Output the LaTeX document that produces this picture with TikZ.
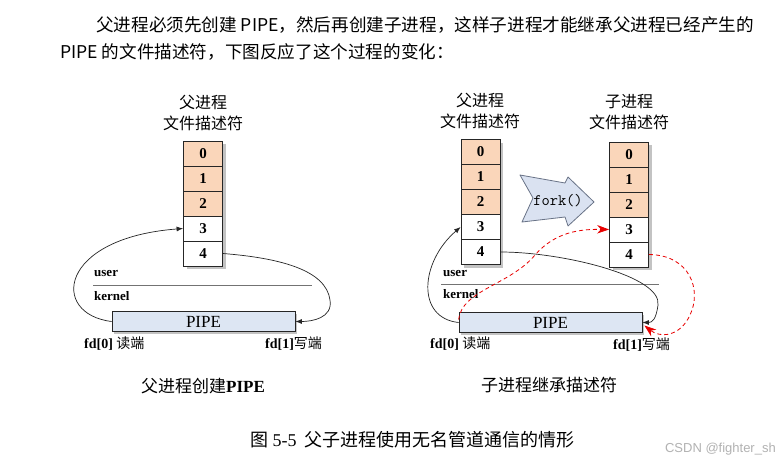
\documentclass[tikz,border=0pt]{standalone}
\usepackage{fontspec}
\setmainfont{Liberation Serif}
\newfontfamily\cjk{Noto Sans CJK SC}
\newfontfamily\wmfont{Liberation Sans}
\usetikzlibrary{arrows.meta,positioning,shadows}

\definecolor{fdorange}{RGB}{250,214,186}
\definecolor{pipeblue}{RGB}{221,230,243}
\definecolor{shadowgray}{RGB}{195,195,195}
\definecolor{forkblue}{RGB}{218,226,241}
\definecolor{forkedge}{RGB}{105,115,135}
\definecolor{pipered}{RGB}{232,0,0}

\tikzset{
  fdcell/.style={draw=black!85, line width=0.8pt, minimum width=39pt, minimum height=25pt, inner sep=0pt,
    drop shadow={shadow xshift=3pt, shadow yshift=-3pt, fill=shadowgray, opacity=1},
    font=\bfseries\fontsize{15}{15}\selectfont},
  pipebox/.style={draw=black!85, line width=0.8pt, fill=pipeblue, minimum width=183pt, minimum height=20pt, inner sep=0pt,
    drop shadow={shadow xshift=2pt, shadow yshift=-2pt, fill=shadowgray, opacity=1},
    font=\fontsize{17}{17}\selectfont},
  head/.style={align=center, font=\cjk\fontsize{16}{21}\selectfont},
  space/.style={anchor=west, inner sep=0pt, font=\bfseries\fontsize{13}{13}\selectfont},
  fdlabel/.style={anchor=west, inner sep=0pt, font=\fontsize{14}{14}\selectfont},
  caption/.style={font=\cjk\fontsize{17}{17}\selectfont},
  fdlink/.style={draw=black!85, line width=0.7pt, -{Latex[length=6.5pt,width=5pt]}},
  redlink/.style={draw=pipered, line width=0.8pt, dash pattern=on 4pt off 3pt, -{Stealth[length=12pt,width=8.5pt]}},
}

% descriptor column: name, left x, top y
\newcommand{\fdcolumn}[3]{%
  \foreach \i in {0,...,4}{%
    \ifnum\i<3 \def\fdfill{fdorange}\else\def\fdfill{white}\fi
    \node[fdcell, fill=\fdfill] (#1\i) at (#2+19.5,#3+12.5+25*\i) {\i};
  }%
}

\begin{document}
\begin{tikzpicture}[x=1pt,y=-1pt]
\useasboundingbox (0,0) rectangle (778,463);
\fill[white] (0,0) rectangle (778,463);

% Text Node
\node[anchor=west, inner sep=0pt, font=\cjk\fontsize{17.6}{17.6}\selectfont] (line1) at (96,25) {父进程必须先创建 PIPE，然后再创建子进程，这样子进程才能继承父进程已经产生的};
\node[anchor=west, inner sep=0pt, font=\cjk\fontsize{17.6}{17.6}\selectfont] (line2) at (60,52) {PIPE 的文件描述符，下图反应了这个过程的变化：};

%%% left: parent creates the pipe
\node[head] (lhead) at (203,112.5) {父进程\\文件描述符};
\fdcolumn{lfd}{183.5}{141}
\node[space] (luser) at (94,273) {user};
\node[space] (lkernel) at (94,296) {kernel};
\coordinate (lsplitA) at (93,285);
\coordinate (lsplitB) at (312,285);
\draw[black!55, line width=1pt] (lsplitA) -- (lsplitB);
\node[pipebox] (lpipe) at (203.5,321.5) {PIPE};
\node[fdlabel] (lread) at (84,344) {\textbf{fd[0]} {\cjk 读端}};
\node[fdlabel] (lwrite) at (265,344) {\textbf{fd[1]}{\cjk 写端}};
\node[caption] (lcap) at (203,386) {父进程创建\textbf{\rmfamily PIPE}};
%Curve Lines
\draw[fdlink] (lpipe.west) .. controls (50,314) and (58,238) .. (lfd3.west);
\draw[fdlink] (lfd4.east) .. controls (280,258) and (326,270) .. (330,300) .. controls (333,318) and (312,321.5) .. (lpipe.east);

%%% right: child inherits the descriptors
\node[head] (phead) at (480,110.5) {父进程\\文件描述符};
\node[head] (chead) at (629,112.5) {子进程\\文件描述符};
\fdcolumn{pfd}{461}{139.5}
\fdcolumn{cfd}{609.5}{142}
%Shape: fork arrow
\draw[fill=forkblue, draw=forkedge, line width=0.8pt, line join=round]
  (520,175) -- (565,183) -- (568,177) -- (594,202) -- (568,226) -- (565,217) -- (522,222) -- (533,198) -- cycle;
\node[font=\ttfamily\fontsize{16}{16}\selectfont] (fork) at (558,201) {fork()};
\node[space] (ruser) at (443,273) {user};
\node[space] (rkernel) at (443,294) {kernel};
\coordinate (rsplitA) at (441,284);
\coordinate (rsplitB) at (659,284);
\draw[black!55, line width=1pt] (rsplitA) -- (rsplitB);
\node[pipebox] (rpipe) at (550.5,322.5) {PIPE};
\node[fdlabel] (rread) at (430,344) {\textbf{fd[0]} {\cjk 读端}};
\node[fdlabel] (rwrite) at (613,345) {\textbf{fd[1]}{\cjk 写端}};
\node[caption] (rcap) at (549,385) {子进程继承描述符};
%Curve Lines
\draw[fdlink] (rpipe.west) .. controls (416,318) and (420,262) .. (pfd3.west);
\draw[fdlink] (pfd4.east) .. controls (562,252) and (662,276) .. (658,305) .. controls (656,320) and (652,322.5) .. (rpipe.east);
%Curve Lines (dashed, inherited)
\draw[redlink] ([yshift=3pt]rpipe.west) .. controls (462,290) and (510,285) .. (535,255) .. controls (555,232) and (580,229) .. (cfd3.west);
\draw[redlink] (cfd4.east) .. controls (690,255) and (702,290) .. (690,315) .. controls (680,337) and (660,338) .. ([xshift=2pt,yshift=-3pt]rpipe.east);

% Text Node
\node[anchor=west, inner sep=0pt, font=\fontsize{18}{18}\selectfont] (figcap) at (250,440) {{\cjk 图} 5-5\, {\cjk 父子进程使用无名管道通信的情形}};
\node[anchor=east, inner sep=0pt, text=black!30, font=\wmfont\fontsize{13}{13}\selectfont] (mark) at (776,449) {CSDN @fighter\_sh};
\end{tikzpicture}
\end{document}
